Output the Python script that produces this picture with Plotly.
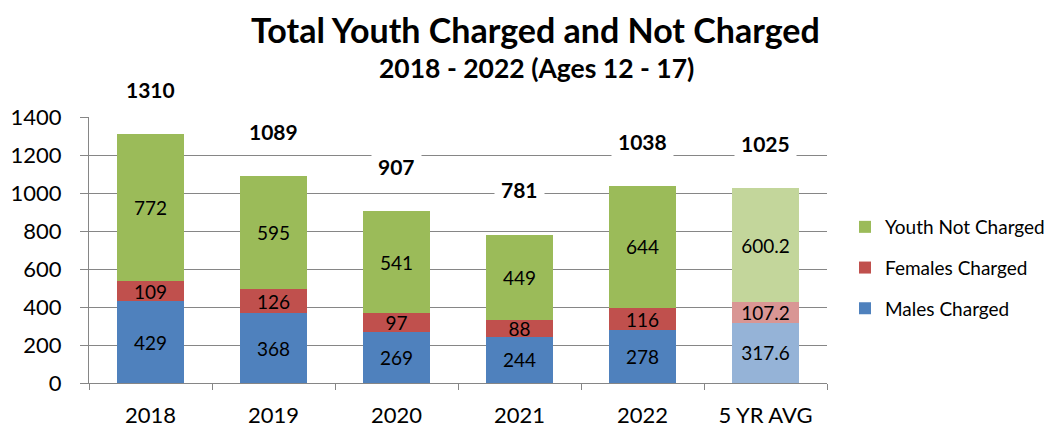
import plotly.graph_objects as go

categories = ["2018", "2019", "2020", "2021", "2022", "5 YR AVG"]
males_charged = [429, 368, 269, 244, 278, 317.6]
females_charged = [109, 126, 97, 88, 116, 107.2]
youth_not_charged = [772, 595, 541, 449, 644, 600.2]
totals = [1310, 1089, 907, 781, 1038, 1025]

FONT = "Lato, Carlito, 'Open Sans', sans-serif"
Y_MAX = 1400

# page body has an 8px default margin; compensate so plot area sits at 89..827 x 117..383
PAGE_OFF = 8
PLOT_L, PLOT_T, PLOT_R, PLOT_B = 89, 117, 827, 383
W, H = 1052, 427


def px_to_paper_x(px):
    return (px - PLOT_L) / (PLOT_R - PLOT_L)


def px_to_paper_y(py):
    return (PLOT_B - py) / (PLOT_B - PLOT_T)


def fmt(v):
    return f"{v:g}"


def colors(base, light):
    return [base] * (len(categories) - 1) + [light]


fig = go.Figure()
series = [
    ("Males Charged", males_charged, "#4F81BD", "#95B3D7", 3),
    ("Females Charged", females_charged, "#C0504D", "#D99694", 2),
    ("Youth Not Charged", youth_not_charged, "#9BBB59", "#C3D69B", 1),
]
for name, vals, base, light, rank in series:
    fig.add_trace(go.Bar(
        x=categories, y=vals, name=name,
        marker=dict(color=colors(base, light), line=dict(width=0)),
        text=[fmt(v) for v in vals], textposition="inside",
        insidetextanchor="middle", textangle=0,
        textfont=dict(family=FONT, size=19, color="black"),
        legendgroup=name, legendrank=rank, cliponaxis=False,
    ))

label_offset = 235
for i, t in enumerate(totals):
    fig.add_annotation(
        x=i, xref="x", y=(t + label_offset) / Y_MAX, yref="paper",
        text=f"<b>{t}</b>", showarrow=False,
        font=dict(family=FONT, size=21, color="black"),
        bgcolor="white", borderpad=6, yanchor="middle",
    )

fig.add_annotation(
    x=px_to_paper_x(535), xref="paper", y=px_to_paper_y(30), yref="paper",
    text="<b>Total Youth Charged and Not Charged</b>", yanchor="middle",
    showarrow=False, font=dict(family=FONT, size=34, color="black"),
)
fig.add_annotation(
    x=px_to_paper_x(536), xref="paper", y=px_to_paper_y(68), yref="paper",
    text="<b>2018 - 2022 (Ages 12 - 17)</b>", yanchor="middle",
    showarrow=False, font=dict(family=FONT, size=26.5, color="black"),
)

fig.update_layout(
    width=W, height=H,
    margin=dict(l=PLOT_L - PAGE_OFF, r=W + PAGE_OFF - PLOT_R,
                t=PLOT_T - PAGE_OFF, b=H + PAGE_OFF - PLOT_B, autoexpand=False),
    barmode="stack", bargap=0.45,
    paper_bgcolor="white", plot_bgcolor="white",
    font=dict(family=FONT, color="black"),
    uniformtext=dict(minsize=19, mode="show"),
    legend=dict(
        x=px_to_paper_x(845), xanchor="left", y=px_to_paper_y(268), yanchor="middle",
        traceorder="grouped", tracegroupgap=13, itemwidth=30,
        font=dict(family=FONT, size=19, color="black"),
    ),
    showlegend=True,
)
fig.update_xaxes(
    type="category", range=[-0.5, len(categories) - 0.5],
    showline=True, linecolor="#868686", linewidth=1,
    ticks="outside", tickson="boundaries", ticklen=6, tickcolor="#868686",
    ticklabelstandoff=13,
    tickfont=dict(family=FONT, size=22, color="black"),
)
fig.update_yaxes(
    range=[0, Y_MAX], dtick=200,
    showline=True, linecolor="#868686", linewidth=1,
    ticks="outside", ticklen=8, tickcolor="#868686",
    ticklabelstandoff=14,
    showgrid=True, gridcolor="#868686", gridwidth=1,
    tickfont=dict(family=FONT, size=22, color="black"),
    zeroline=False,
)

fig.write_html("out.html")
